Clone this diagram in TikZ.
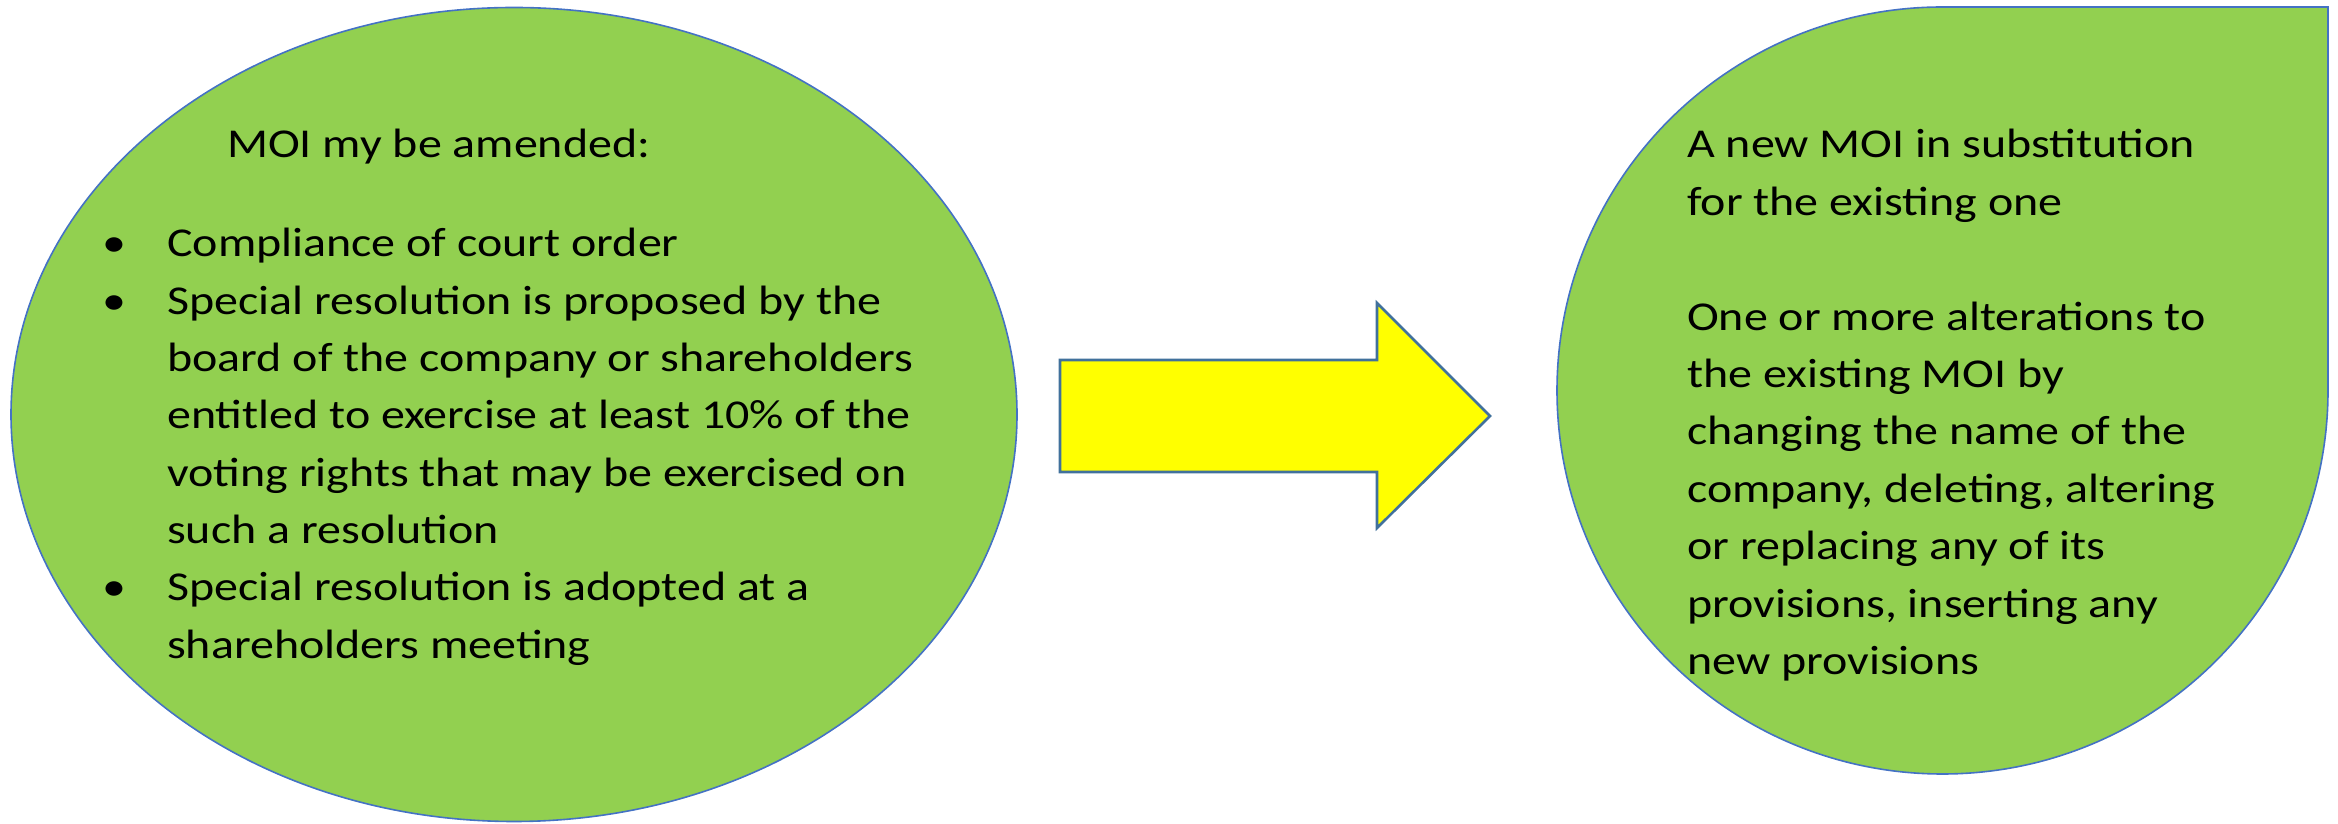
\documentclass[tikz,border=0pt]{standalone}
\usepackage{fontspec}
\setmainfont{Carlito}[FakeStretch=1.17]
\usetikzlibrary{shapes.geometric}
\definecolor{shapegreen}{HTML}{92D050}
\definecolor{edgeblue}{HTML}{4472C4}
\definecolor{arrowedge}{HTML}{41719C}
\definecolor{arrowfill}{HTML}{FFFF00}
\begin{document}
\begin{tikzpicture}[x=1pt,y=1pt,
  txt/.style={inner sep=0pt, anchor=base west, font=\fontsize{41}{57.4}\selectfont, text=black},
  bul/.style={inner sep=0pt, anchor=base, font=\fontsize{41}{57.4}\selectfont, text=black},
  blob/.style={fill=shapegreen, draw=edgeblue, line width=1.6pt}]
\useasboundingbox (0,0) rectangle (2338,824);
% left ellipse
\node[blob, ellipse, minimum width=1006pt, minimum height=814pt, inner sep=0pt] (leftoval) at (514,409.5) {};
% right teardrop
\draw[blob] (1942.5,817) -- (2328,817) -- (2328,433.5)
  arc[start angle=0, end angle=-270, x radius=385.5, y radius=383.5] -- cycle;
\coordinate (rightdrop) at (1942.5,433.5);
% arrow
\draw[fill=arrowfill, draw=arrowedge, line width=2.6pt, line join=miter]
  (1060,464) -- (1377,464) -- (1377,521) -- (1490,408) -- (1377,296) -- (1377,352) -- (1060,352) -- cycle;
% left text
\node[txt] (lhead) at (227,666) {MOI my be amended:};
\node[bul] (b1) at (114,567) {•};
\node[bul] (b2) at (114,509.7) {•};
\node[bul] (b3) at (114,223.2) {•};
\node[txt] (l1) at (167,567) {Compliance of court order};
\node[txt] (l2) at (167,509.7) {Special resolution is proposed by the};
\node[txt] (l3) at (167,452.4) {board of the company or shareholders};
\node[txt] (l4) at (167,395.1) {entitled to exercise at least 10\% of the};
\node[txt] (l5) at (167,337.8) {voting rights that may be exercised on};
\node[txt] (l6) at (167,280.5) {such a resolution};
\node[txt] (l7) at (167,223.2) {Special resolution is adopted at a};
\node[txt] (l8) at (167,165.9) {shareholders meeting};
% right text
\node[txt] (r1) at (1687,666) {A new MOI in substitution};
\node[txt] (r2) at (1687,608.6) {for the existing one};
\node[txt] (r3) at (1687,493.8) {One or more alterations to};
\node[txt] (r4) at (1687,436.4) {the existing MOI by};
\node[txt] (r5) at (1687,379) {changing the name of the};
\node[txt] (r6) at (1687,321.6) {company, deleting, altering};
\node[txt] (r7) at (1687,264.2) {or replacing any of its};
\node[txt] (r8) at (1687,206.8) {provisions, inserting any};
\node[txt] (r9) at (1687,149.4) {new provisions};
\end{tikzpicture}
\end{document}
